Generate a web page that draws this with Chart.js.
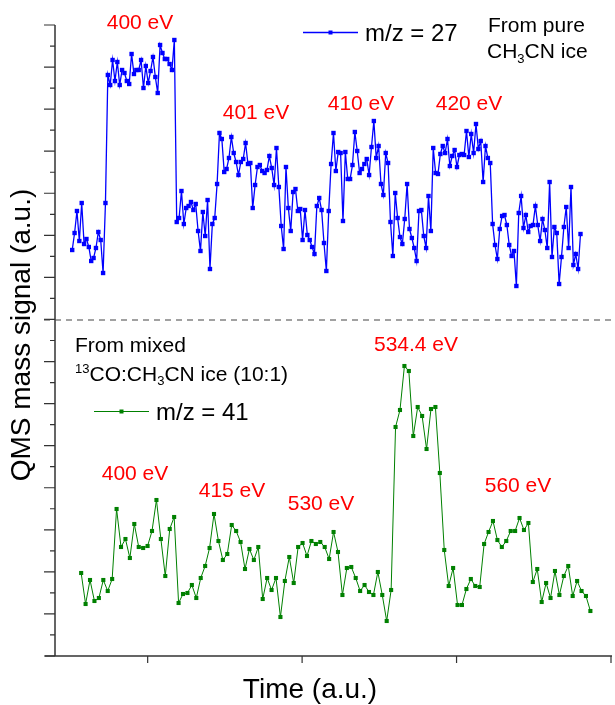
<!DOCTYPE html>
<html>
<head>
<meta charset="utf-8">
<script src="https://cdn.jsdelivr.net/npm/chart.js@4.4.1/dist/chart.umd.min.js"></script>
<style>
  html, body { margin: 0; padding: 0; background: #fff; }
  #wrap { width: 615px; height: 705px; }
</style>
</head>
<body>
<div id="wrap"><canvas id="qmsChart" width="615" height="705"></canvas></div>
<script>
// time axis (a.u.), tick marks at 1..4
const timeMin = 0.4, timeMax = 4.0;
const timeTicks = [1, 2, 3, 4];

// signal axis (a.u.), 30 tick steps, dashed divider between the two panels
const signalMax = 631;
const signalSteps = 30;
const dividerLevel = 336;

// m/z = 27 from pure CH3CN ice
const blueStart = 0.5114, blueStep = 0.015379;
const blueSignal = [
  406, 423, 445, 415, 453, 412, 417, 409, 395, 398,
  408, 424, 416, 383, 453, 581, 571, 596, 575, 594,
  571, 586, 583, 575, 572, 602, 582, 586, 586, 596,
  568, 590, 573, 585, 599, 579, 563, 611, 603, 597,
  597, 592, 586, 616, 434, 438, 465, 432, 448, 450,
  454, 446, 452, 425, 405, 444, 420, 456, 387, 432,
  438, 472, 523, 517, 484, 487, 498, 519, 503, 494,
  481, 494, 497, 513, 492, 493, 448, 471, 489, 491,
  485, 483, 486, 500, 488, 471, 508, 469, 430, 407,
  489, 448, 425, 464, 467, 445, 447, 416, 446, 421,
  416, 409, 402, 450, 458, 446, 413, 385, 445, 492,
  523, 485, 504, 503, 435, 504, 477, 477, 491, 524,
  505, 483, 487, 492, 497, 481, 509, 535, 498, 510,
  472, 461, 503, 493, 434, 400, 463, 438, 419, 412,
  437, 472, 427, 418, 408, 395, 445, 446, 420, 408,
  460, 425, 508, 483, 482, 502, 510, 503, 517, 490,
  500, 506, 489, 501, 502, 501, 525, 499, 522, 503,
  532, 507, 515, 474, 510, 498, 493, 432, 411, 397,
  427, 440, 441, 431, 411, 400, 405, 370, 443, 460,
  428, 441, 424, 430, 431, 450, 431, 415, 437, 426,
  408, 474, 399, 429, 423, 372, 399, 429, 449, 408,
  469, 391, 402, 387, 422
];

// m/z = 41 from mixed 13CO:CH3CN ice (10:1)
const greenStart = 0.5694, greenStep = 0.028671;
const greenSignal = [
  83, 52, 76, 55, 58, 76, 65, 77, 147, 109,
  117, 98, 132, 109, 108, 110, 125, 156, 117, 80,
  127, 139, 53, 62, 63, 71, 58, 78, 90, 108,
  142, 115, 96, 102, 131, 125, 114, 87, 107, 96,
  109, 57, 78, 66, 78, 39, 75, 99, 73, 109,
  113, 100, 115, 112, 114, 109, 97, 124, 104, 61,
  88, 89, 78, 65, 71, 64, 61, 84, 61, 35,
  66, 229, 246, 290, 285, 220, 249, 240, 207, 247,
  249, 183, 106, 70, 88, 51, 51, 67, 77, 70,
  69, 112, 124, 135, 116, 109, 115, 125, 125, 138,
  126, 133, 74, 87, 54, 73, 58, 85, 61, 80,
  90, 60, 75, 65, 60, 45
];

const energyLabels = ['400 eV', '401 eV', '410 eV', '420 eV', '400 eV', '415 eV', '530 eV', '534.4 eV', '560 eV'];

const toPoints = (start, step, values) => values.map((v, i) => ({ x: start + i * step, y: v }));

const FONT = '"Liberation Sans", Arial, sans-serif';

// where the red labels sit (pixels)
const labelSpots = [[140, 28.5], [256, 118.5], [361, 109.5], [469, 109.5],
                    [135, 480], [232, 496.5], [321, 510], [416, 350.5], [518, 492]];

function drawRich(ctx, x, y, parts, size) {
  let cx = x;
  parts.forEach(p => {
    let fs = size, dy = 0;
    if (p.s === 'sup') { fs = size * 0.62; dy = -size * 0.38; }
    if (p.s === 'sub') { fs = size * 0.62; dy = size * 0.22; }
    ctx.font = fs + 'px ' + FONT;
    ctx.fillText(p.t, cx, y + dy);
    cx += ctx.measureText(p.t).width;
  });
}

function legendItem(ctx, ds, x1, x2, y, label) {
  ctx.strokeStyle = ds.borderColor;
  ctx.lineWidth = ds.borderWidth;
  ctx.beginPath(); ctx.moveTo(x1, y); ctx.lineTo(x2, y); ctx.stroke();
  ctx.fillStyle = ds.borderColor;
  const mid = (x1 + x2) / 2;
  ctx.fillRect(mid - 2, y - 2, 4, 4);
  ctx.fillStyle = '#000';
  ctx.font = '24px ' + FONT;
  ctx.textAlign = 'left';
  ctx.fillText(label, x2 + 7, y + 8.5);
}

const frame = {
  id: 'frame',
  afterDraw(chart) {
    const { ctx, chartArea: a, scales: { x, y } } = chart;
    ctx.save();
    ctx.strokeStyle = '#333';
    ctx.lineWidth = 1.5;
    ctx.beginPath();
    ctx.moveTo(a.left, a.top); ctx.lineTo(a.left, a.bottom);
    ctx.moveTo(a.left - 10, a.bottom); ctx.lineTo(a.right + 1, a.bottom);
    ctx.stroke();

    ctx.lineWidth = 1.2;
    ctx.beginPath();
    for (let k = 0; k <= signalSteps; k++) {
      const py = y.getPixelForValue(k * signalMax / signalSteps);
      const len = k % 2 === 0 ? 11 : 5;
      ctx.moveTo(a.left - len, py); ctx.lineTo(a.left, py);
    }
    timeTicks.forEach(t => {
      const px = x.getPixelForValue(t);
      ctx.moveTo(px, a.bottom); ctx.lineTo(px, a.bottom + 7);
    });
    ctx.stroke();

    // divider between the two measurements
    const dy = y.getPixelForValue(dividerLevel);
    ctx.setLineDash([6, 5]);
    ctx.strokeStyle = '#444';
    ctx.lineWidth = 1.2;
    ctx.beginPath(); ctx.moveTo(a.left - 11, dy); ctx.lineTo(a.right + 1, dy); ctx.stroke();
    ctx.setLineDash([]);

    // photon energies
    ctx.fillStyle = '#ff0000';
    ctx.font = '21px ' + FONT;
    ctx.textAlign = 'center';
    ctx.textBaseline = 'alphabetic';
    energyLabels.forEach((txt, i) => ctx.fillText(txt, labelSpots[i][0], labelSpots[i][1]));

    // legends and sample notes
    const [blue, green] = chart.data.datasets;
    legendItem(ctx, blue, 303, 358, 32.5, blue.label);
    legendItem(ctx, green, 94, 149, 411.5, green.label);

    ctx.fillStyle = '#000';
    ctx.textAlign = 'left';
    ctx.font = '21px ' + FONT;
    ctx.fillText('From pure', 488, 31.5);
    drawRich(ctx, 487, 58, [{ t: 'CH' }, { t: '3', s: 'sub' }, { t: 'CN ice' }], 21);
    ctx.font = '21px ' + FONT;
    ctx.fillText('From mixed', 75, 351.5);
    drawRich(ctx, 75, 380.5, [{ t: '13', s: 'sup' }, { t: 'CO:CH' }, { t: '3', s: 'sub' }, { t: 'CN ice (10:1)' }], 21);

    // axis titles
    ctx.font = '28px ' + FONT;
    ctx.textAlign = 'center';
    ctx.fillText('Time (a.u.)', 310, 698);
    ctx.translate(30, 335);
    ctx.rotate(-Math.PI / 2);
    ctx.fillText('QMS mass signal (a.u.)', 0, 0);
    ctx.restore();
  }
};

new Chart(document.getElementById('qmsChart'), {
  type: 'line',
  data: {
    datasets: [
      {
        label: 'm/z = 27',
        data: toPoints(blueStart, blueStep, blueSignal),
        borderColor: '#0000ff',
        backgroundColor: '#0000ff',
        borderWidth: 1.3,
        pointStyle: 'rect',
        pointRadius: 3.1,
        pointBorderWidth: 0,
        tension: 0
      },
      {
        label: 'm/z = 41',
        data: toPoints(greenStart, greenStep, greenSignal),
        borderColor: '#008000',
        backgroundColor: '#008000',
        borderWidth: 1,
        pointStyle: 'rect',
        pointRadius: 2.9,
        pointBorderWidth: 0,
        tension: 0
      }
    ]
  },
  options: {
    responsive: false,
    animation: false,
    layout: { padding: { left: 55, top: 25, right: 1, bottom: 49 } },
    plugins: { legend: { display: false }, tooltip: { enabled: false } },
    scales: {
      x: { type: 'linear', display: false, min: timeMin, max: timeMax },
      y: { display: false, min: 0, max: signalMax }
    }
  },
  plugins: [frame]
});
</script>
</body>
</html>
